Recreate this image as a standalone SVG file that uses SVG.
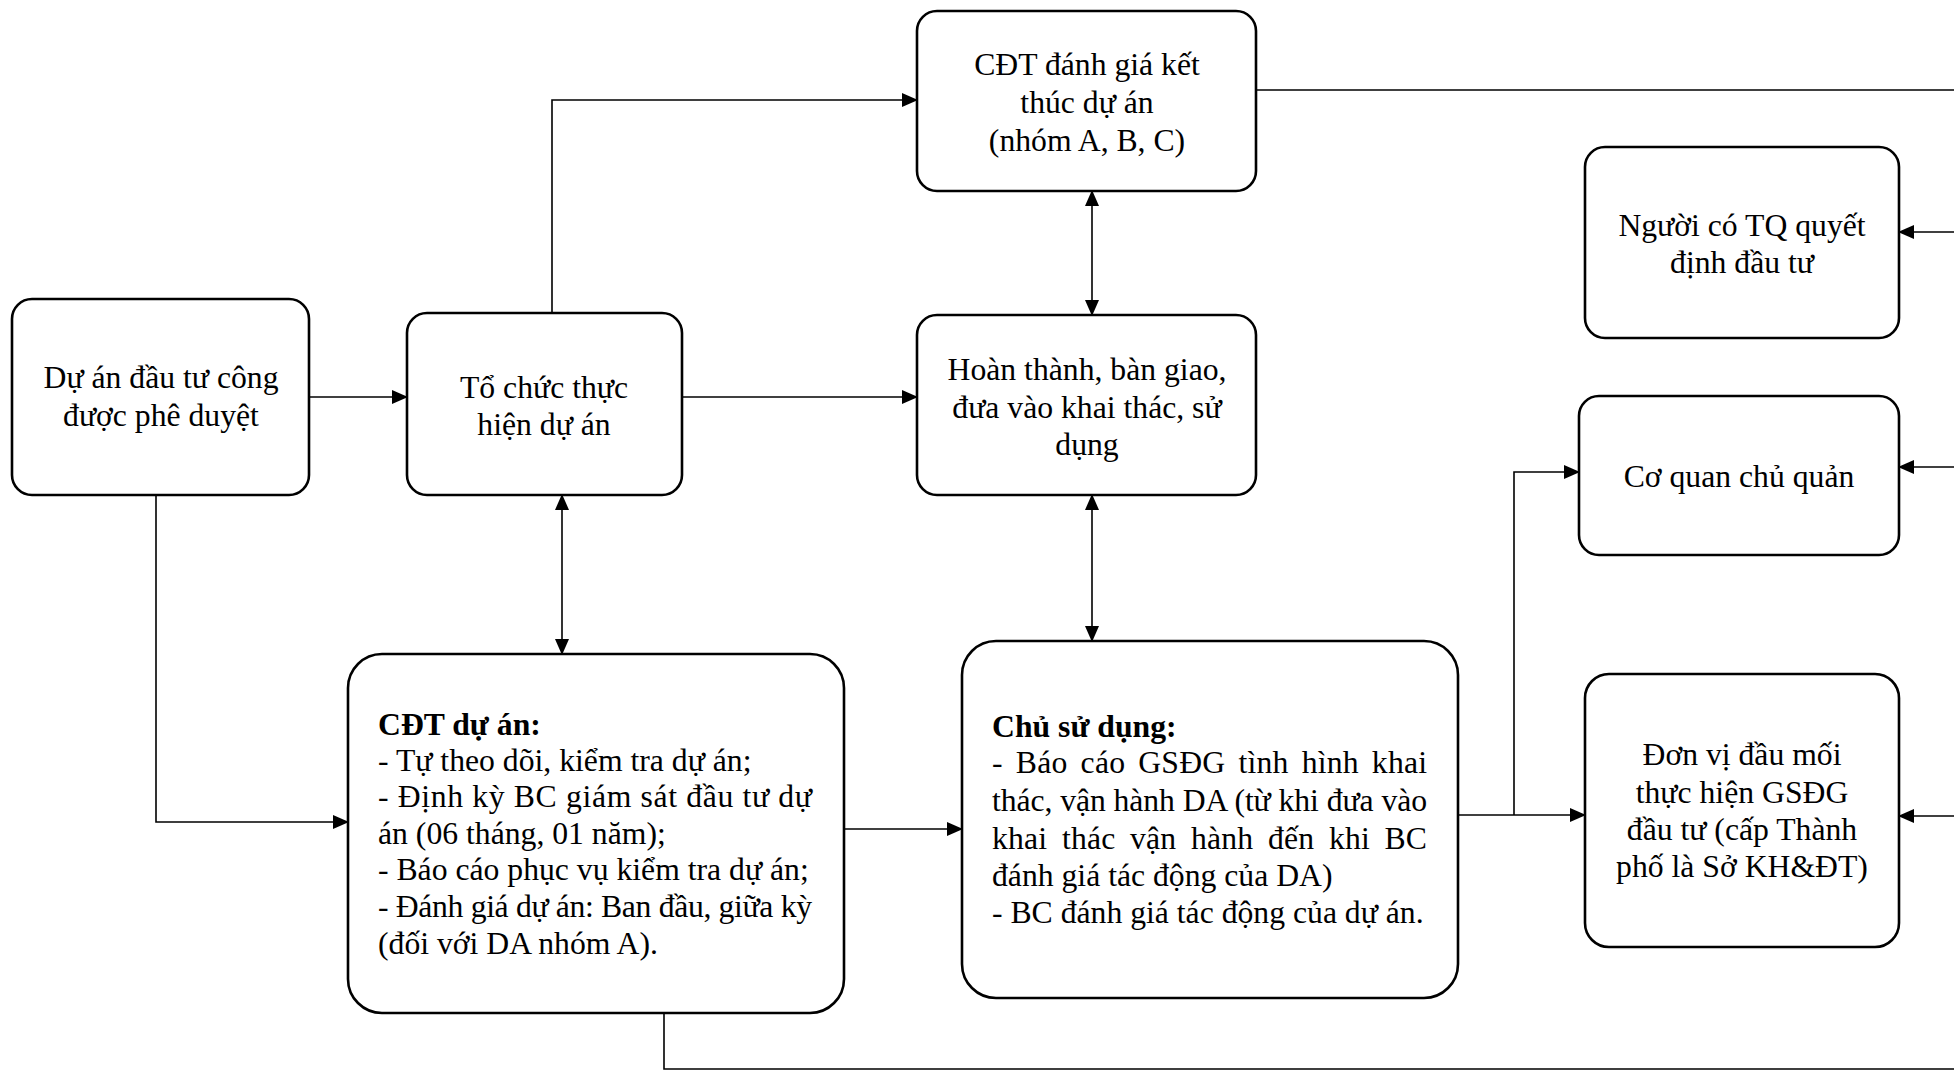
<svg xmlns="http://www.w3.org/2000/svg" width="1954" height="1072" viewBox="0 0 1954 1072">
<style>
.box{fill:#fff;stroke:#000;stroke-width:2.6}
text{font-family:'Liberation Serif','Times New Roman','DejaVu Serif',serif;font-size:31.7px;fill:#000}
.c{text-anchor:middle}
.b{font-weight:bold}
.ln{fill:none;stroke:#000;stroke-width:1.6}
</style>
<defs>
<marker id="ah" markerUnits="userSpaceOnUse" markerWidth="16" markerHeight="14" refX="15" refY="7" orient="auto-start-reverse" viewBox="0 0 16 14">
<path d="M0,0 L16,7 L0,14 z" fill="#000"/>
</marker>
</defs>
<rect width="1954" height="1072" fill="#fff"/>
<g id="connectors">
<path class="ln" d="M309,397 H407" marker-end="url(#ah)"/>
<path class="ln" d="M552,313 V100 H917" marker-end="url(#ah)"/>
<path class="ln" d="M682,397 H917" marker-end="url(#ah)"/>
<path class="ln" d="M1092,191 V315" marker-start="url(#ah)" marker-end="url(#ah)"/>
<path class="ln" d="M562,495 V654" marker-start="url(#ah)" marker-end="url(#ah)"/>
<path class="ln" d="M1092,495 V641" marker-start="url(#ah)" marker-end="url(#ah)"/>
<path class="ln" d="M156,495 V822 H348" marker-end="url(#ah)"/>
<path class="ln" d="M844,829 H962" marker-end="url(#ah)"/>
<path class="ln" d="M1458,815 H1585" marker-end="url(#ah)"/>
<path class="ln" d="M1514,815 V472 H1579" marker-end="url(#ah)"/>
<path class="ln" d="M664,1013 V1069 H1954"/>
<path class="ln" d="M1256,90 H1954"/>
<path class="ln" d="M1954,232 H1899" marker-end="url(#ah)"/>
<path class="ln" d="M1954,467 H1899" marker-end="url(#ah)"/>
<path class="ln" d="M1954,816 H1899" marker-end="url(#ah)"/>
</g>
<g id="node-du-an">
<rect class="box" x="12" y="299" width="297" height="196" rx="20"/>
<text class="c" x="161" y="388">Dự án đầu tư công</text>
<text class="c" x="161" y="426">được phê duyệt</text>
</g>
<g id="node-to-chuc">
<rect class="box" x="407" y="313" width="275" height="182" rx="20"/>
<text class="c" x="544" y="398">Tổ chức thực</text>
<text class="c" x="544" y="435">hiện dự án</text>
</g>
<g id="node-cdt-danh-gia">
<rect class="box" x="917" y="11" width="339" height="180" rx="20"/>
<text class="c" x="1087" y="75">CĐT đánh giá kết</text>
<text class="c" x="1087" y="113">thúc dự án</text>
<text class="c" x="1087" y="151">(nhóm A, B, C)</text>
</g>
<g id="node-hoan-thanh">
<rect class="box" x="917" y="315" width="339" height="180" rx="20"/>
<text class="c" x="1087" y="380">Hoàn thành, bàn giao,</text>
<text class="c" x="1087" y="418">đưa vào khai thác, sử</text>
<text class="c" x="1087" y="455">dụng</text>
</g>
<g id="node-cdt-du-an">
<rect class="box" x="348" y="654" width="496" height="359" rx="34"/>
<text class="b" x="378" y="735">CĐT dự án:</text>
<text x="378" y="771">- Tự theo dõi, kiểm tra dự án;</text>
<text x="378" y="807" textLength="434" lengthAdjust="spacing">- Định kỳ BC giám sát đầu tư dự</text>
<text x="378" y="844">án (06 tháng, 01 năm);</text>
<text x="378" y="880">- Báo cáo phục vụ kiểm tra dự án;</text>
<text x="378" y="917" textLength="434" lengthAdjust="spacing">- Đánh giá dự án: Ban đầu, giữa kỳ</text>
<text x="378" y="954">(đối với DA nhóm A).</text>
</g>
<g id="node-chu-su-dung">
<rect class="box" x="962" y="641" width="496" height="357" rx="34"/>
<text class="b" x="992" y="737">Chủ sử dụng:</text>
<text x="992" y="773" word-spacing="5" textLength="435" lengthAdjust="spacing">- Báo cáo GSĐG tình hình khai</text>
<text x="992" y="811" textLength="435" lengthAdjust="spacing">thác, vận hành DA (từ khi đưa vào</text>
<text x="992" y="849" word-spacing="6.5" textLength="435" lengthAdjust="spacing">khai thác vận hành đến khi BC</text>
<text x="992" y="886">đánh giá tác động của DA)</text>
<text x="992" y="923">- BC đánh giá tác động của dự án.</text>
</g>
<g id="node-nguoi-co-tq">
<rect class="box" x="1585" y="147" width="314" height="191" rx="20"/>
<text class="c" x="1742" y="236">Người có TQ quyết</text>
<text class="c" x="1742" y="273">định đầu tư</text>
</g>
<g id="node-co-quan">
<rect class="box" x="1579" y="396" width="320" height="159" rx="20"/>
<text class="c" x="1739" y="487">Cơ quan chủ quản</text>
</g>
<g id="node-don-vi">
<rect class="box" x="1585" y="674" width="314" height="273" rx="24"/>
<text class="c" x="1742" y="765">Đơn vị đầu mối</text>
<text class="c" x="1742" y="803">thực hiện GSĐG</text>
<text class="c" x="1742" y="840">đầu tư (cấp Thành</text>
<text class="c" x="1742" y="877">phố là Sở KH&amp;ĐT)</text>
</g>
</svg>
